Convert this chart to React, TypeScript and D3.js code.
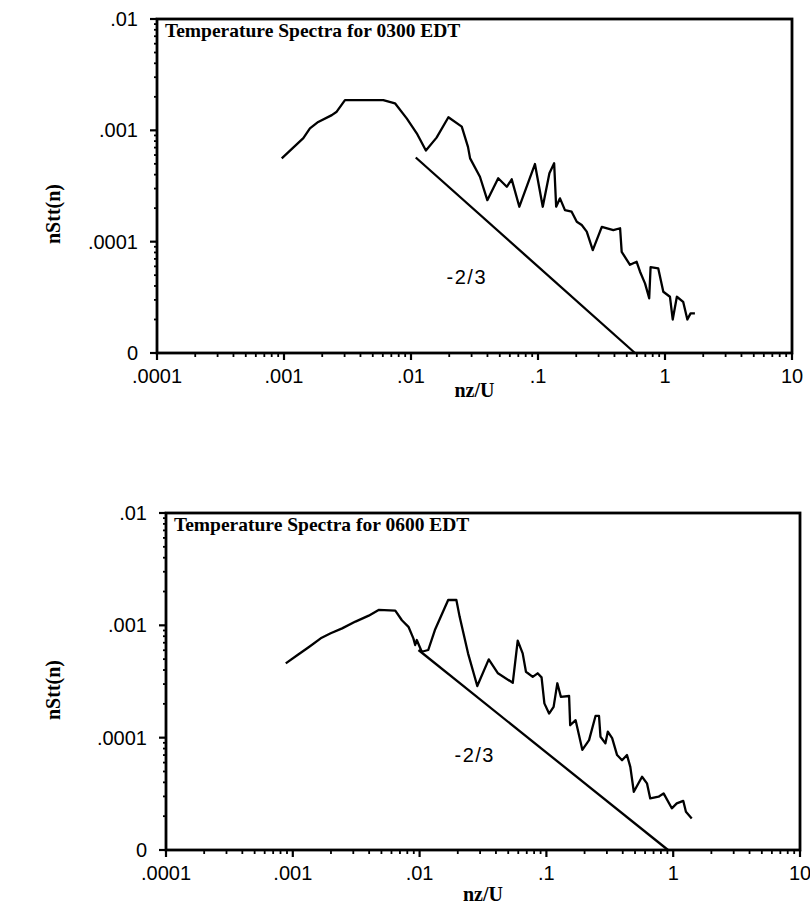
import React from 'react';
import * as d3 from 'd3';

const xTickValues = [1e-4, 1e-3, 1e-2, 1e-1, 1, 10];
const xTickLabels = ['.0001', '.001', '.01', '.1', '1', '10'];
const yTickValues = [1e-5, 1e-4, 1e-3, 1e-2];
const yTickLabels = ['0', '.0001', '.001', '.01'];

const titles = ['Temperature Spectra for 0300 EDT', 'Temperature Spectra for 0600 EDT'];
const xAxisTitle = 'nz/U';
const yAxisTitle = 'nStt(n)';
const slopeLabel = '-2/3';

// 0300 EDT spectrum
const spec0300X = [0.00096, 0.00142, 0.0016, 0.00186, 0.00238, 0.0026, 0.00302, 0.00605, 0.00748, 0.00925,
  0.0111, 0.0131, 0.0159, 0.0197, 0.0251, 0.0281, 0.0292, 0.0349, 0.0399, 0.0486,
  0.0568, 0.0621, 0.0713, 0.0946, 0.109, 0.123, 0.134, 0.139, 0.149, 0.163,
  0.184, 0.202, 0.221, 0.242, 0.27, 0.318, 0.392, 0.443, 0.456, 0.53,
  0.598, 0.635, 0.697, 0.751, 0.77, 0.885, 0.97, 1.094, 1.15, 1.24,
  1.39, 1.5, 1.59, 1.72];
const spec0300Y = [5.6e-4, 8.5e-4, 1.04e-3, 1.19e-3, 1.37e-3, 1.47e-3, 1.87e-3, 1.87e-3, 1.75e-3, 1.28e-3,
  9.4e-4, 6.6e-4, 8.6e-4, 1.31e-3, 1.08e-3, 7.1e-4, 5.6e-4, 3.83e-4, 2.36e-4, 3.71e-4,
  3.11e-4, 3.63e-4, 2.06e-4, 4.98e-4, 2.06e-4, 4.11e-4, 5.06e-4, 2.06e-4, 2.45e-4, 1.92e-4,
  1.86e-4, 1.51e-4, 1.41e-4, 1.23e-4, 8.4e-5, 1.36e-4, 1.27e-4, 1.32e-4, 8.1e-5, 6.2e-5,
  6.6e-5, 5.4e-5, 4.2e-5, 3.1e-5, 5.9e-5, 5.75e-5, 3.55e-5, 3.2e-5, 2.0e-5, 3.2e-5,
  2.88e-5, 2.0e-5, 2.27e-5, 2.27e-5];
const ref0300X = [0.0109, 0.58];
const ref0300Y = [5.7e-4, 1e-5];
const label0300 = [0.0275, 4.8e-5];

// 0600 EDT spectrum
const spec0600X = [0.00088, 0.00109, 0.00135, 0.00166, 0.00199, 0.00245, 0.00312, 0.00397, 0.00475, 0.00643,
  0.00725, 0.00817, 0.00893, 0.00923, 0.0095, 0.0104, 0.0117, 0.0132, 0.0168, 0.0195,
  0.0207, 0.0241, 0.0285, 0.0351, 0.0415, 0.0543, 0.0594, 0.065, 0.069, 0.078,
  0.0853, 0.0916, 0.0964, 0.105, 0.114, 0.119, 0.122, 0.13, 0.151, 0.154,
  0.17, 0.192, 0.217, 0.244, 0.26, 0.267, 0.292, 0.305, 0.33, 0.361,
  0.395, 0.432, 0.459, 0.489, 0.568, 0.621, 0.659, 0.767, 0.84, 0.975,
  1.067, 1.2, 1.26, 1.4];
const spec0600Y = [4.59e-4, 5.44e-4, 6.45e-4, 7.66e-4, 8.49e-4, 9.4e-4, 1.08e-3, 1.22e-3, 1.37e-3, 1.35e-3,
  1.11e-3, 9.7e-4, 7.66e-4, 6.68e-4, 7.4e-4, 5.82e-4, 6.03e-4, 9.08e-4, 1.68e-3, 1.68e-3,
  1.19e-3, 5.63e-4, 2.88e-4, 4.98e-4, 3.74e-4, 3.08e-4, 7.3e-4, 5.63e-4, 3.86e-4, 3.48e-4,
  3.74e-4, 3.44e-4, 2.02e-4, 1.64e-4, 1.88e-4, 2.56e-4, 3.05e-4, 2.31e-4, 2.35e-4, 1.29e-4,
  1.43e-4, 7.8e-5, 9.5e-5, 1.56e-4, 1.56e-4, 1.02e-4, 8.9e-5, 1.13e-4, 9.9e-5, 7.0e-5,
  6.3e-5, 7.0e-5, 5.5e-5, 3.3e-5, 4.49e-5, 3.92e-5, 2.88e-5, 2.98e-5, 3.19e-5, 2.35e-5,
  2.6e-5, 2.74e-5, 2.19e-5, 1.91e-5];
const ref0600X = [0.0098, 0.91];
const ref0600Y = [6.03e-4, 1e-5];
const label0600 = [0.0272, 7.0e-5];

const SERIF = '"Liberation Serif", "Times New Roman", serif';
const SANS = '"Liberation Sans", Arial, sans-serif';

type PanelProps = {
  left: number; top: number; right: number; bottom: number;
  title: string; xs: number[]; ys: number[]; rx: number[]; ry: number[]; lab: number[];
  yLabelX: number; yLabelY: number; xTitleOffset: number;
};

function Panel(p: PanelProps) {
  const x = d3.scaleLog().domain([1e-4, 10]).range([p.left, p.right]);
  const y = d3.scaleLog().domain([1e-5, 1e-2]).range([p.bottom, p.top]);
  const pts: [number, number][] = p.xs.map((v, i) => [v, p.ys[i]]);
  const line = d3.line<[number, number]>().x(d => x(d[0])).y(d => y(d[1]));
  const refPts: [number, number][] = p.rx.map((v, i) => [v, p.ry[i]]);
  const xMinor = x.ticks().filter(v => !xTickValues.some(t => Math.abs(t - v) / t < 1e-6));
  const yMinor = y.ticks().filter(v => !yTickValues.some(t => Math.abs(t - v) / t < 1e-6));
  const xMid = (p.left + p.right) / 2;
  return (
    <g>
      {xMinor.map((v, i) => (
        <line key={'xm' + i} x1={x(v)} x2={x(v)} y1={p.bottom} y2={p.bottom + 4} stroke="#000" strokeWidth={1.8} />
      ))}
      {xTickValues.map((v, i) => (
        <line key={'xM' + i} x1={x(v)} x2={x(v)} y1={p.bottom} y2={p.bottom + 7} stroke="#000" strokeWidth={2.2} />
      ))}
      {yMinor.map((v, i) => (
        <line key={'ym' + i} x1={p.left - 3} x2={p.left} y1={y(v)} y2={y(v)} stroke="#000" strokeWidth={1.8} />
      ))}
      {yTickValues.map((v, i) => (
        <line key={'yM' + i} x1={p.left - 7} x2={p.left} y1={y(v)} y2={y(v)} stroke="#000" strokeWidth={2.2} />
      ))}
      <rect x={p.left} y={p.top} width={p.right - p.left} height={p.bottom - p.top} fill="none" stroke="#000" strokeWidth={2.8} />
      {xTickValues.map((v, i) => (
        <text key={'xl' + i} x={x(v)} y={p.bottom + 30} textAnchor="middle" fontFamily={SANS} fontSize={20} fill="#000">{xTickLabels[i]}</text>
      ))}
      {yTickValues.map((v, i) => (
        <text key={'yl' + i} x={p.left - 19} y={y(v) + 7} textAnchor="end" fontFamily={SANS} fontSize={20} fill="#000">{yTickLabels[i]}</text>
      ))}
      <text x={p.left + 8} y={p.top + 18} fontFamily={SERIF} fontWeight="bold" fontSize={19.5} fill="#000">{p.title}</text>
      <path d={line(pts) || ''} fill="none" stroke="#000" strokeWidth={2.3} strokeLinejoin="round" />
      <path d={line(refPts) || ''} fill="none" stroke="#000" strokeWidth={2.3} />
      <text x={x(p.lab[0])} y={y(p.lab[1]) + 7} textAnchor="middle" fontFamily={SANS} fontSize={20} letterSpacing={1.5} fill="#000">{slopeLabel}</text>
      <text x={xMid} y={p.bottom + p.xTitleOffset} textAnchor="middle" fontFamily={SERIF} fontWeight="bold" fontSize={20} fill="#000">{xAxisTitle}</text>
      <text transform={`translate(${p.yLabelX},${p.yLabelY}) rotate(-90)`} textAnchor="middle" fontFamily={SERIF} fontWeight="bold" fontSize={20} fill="#000">{yAxisTitle}</text>
    </g>
  );
}

export default function App() {
  return (
    <svg width={810} height={913} style={{ position: 'absolute', left: 0, top: 0, background: '#fff' }}>
      <rect x={0} y={0} width={810} height={913} fill="#fff" />
      <Panel left={157} top={19} right={792} bottom={353} title={titles[0]}
        xs={spec0300X} ys={spec0300Y} rx={ref0300X} ry={ref0300Y} lab={label0300}
        yLabelX={60} yLabelY={214} xTitleOffset={44} />
      <Panel left={166} top={513} right={800} bottom={850} title={titles[1]}
        xs={spec0600X} ys={spec0600Y} rx={ref0600X} ry={ref0600Y} lab={label0600}
        yLabelX={60} yLabelY={690} xTitleOffset={51} />
    </svg>
  );
}
